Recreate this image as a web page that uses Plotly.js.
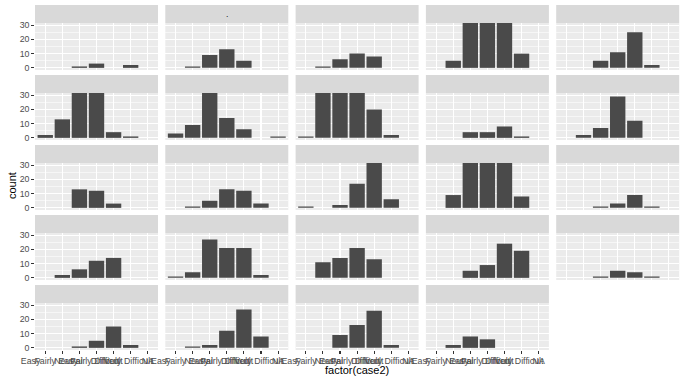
<!DOCTYPE html>
<html>
<head>
<meta charset="utf-8">
<script src="https://cdn.plot.ly/plotly-3.0.1.min.js"></script>
<style>html,body{margin:0;padding:0;background:#fff;}#chart{width:686px;height:381px;}</style>
</head>
<body>
<div id="chart"></div>
<script>
// x categories (factor(case2)), labels are fixed-width padded strings
const categories = ["Easy", "Fairly Easy", "Neutral", "Fairly Difficult", "Difficult", "Very Difficult", "NA"];
const yTicks = [0, 10, 20, 30];
const yMinorTicks = [5, 15, 25];
const stripLabels = ["", ".", "", "", "", "", "", "", "", "", "", "", "", "", "", "", "", "", "", "", "", "", "", ""];

// counts per facet panel (bars above ~31 are cut off in the reference; their heights are guesses)
const p1  = [0, 0, 1, 3, 0, 2, 0];
const p2  = [0, 1, 9, 13, 5, 0, 0];
const p3  = [0, 1, 6, 10, 8, 0, 0];
const p4  = [0, 5, 35, 35, 35, 10, 0];
const p5  = [0, 0, 5, 11, 25, 2, 0];
const p6  = [2, 13, 35, 35, 4, 1, 0];
const p7  = [3, 9, 35, 14, 6, 0, 1];
const p8  = [1, 35, 35, 35, 20, 2, 0];
const p9  = [0, 0, 4, 4, 8, 1, 0];
const p10 = [0, 2, 7, 29, 12, 0, 0];
const p11 = [0, 0, 13, 12, 3, 0, 0];
const p12 = [0, 1, 5, 13, 12, 3, 0];
const p13 = [1, 0, 2, 17, 35, 6, 0];
const p14 = [0, 9, 35, 35, 35, 8, 0];
const p15 = [0, 0, 1, 3, 9, 1, 0];
const p16 = [0, 2, 6, 12, 14, 0, 0];
const p17 = [1, 4, 27, 21, 21, 2, 0];
const p18 = [0, 11, 14, 21, 13, 0, 0];
const p19 = [0, 0, 5, 9, 24, 19, 0];
const p20 = [0, 0, 1, 5, 4, 1, 0];
const p21 = [0, 0, 1, 5, 15, 2, 0];
const p22 = [0, 1, 2, 12, 27, 8, 0];
const p23 = [0, 0, 9, 16, 26, 2, 0];
const p24 = [0, 2, 8, 6, 0, 0, 0];
const panels = [p1,p2,p3,p4,p5,p6,p7,p8,p9,p10,p11,p12,p13,p14,p15,p16,p17,p18,p19,p20,p21,p22,p23,p24];

const W = 686, H = 381;
const FONT = "Liberation Sans, Arial, Helvetica, sans-serif";
const NBSP = "\u00A0";
const tickText = categories.map(c => c === "NA" ? c : c + NBSP.repeat(Math.max(0, 16 - c.length)));

const nCols = 5, nRows = 5;
const left0 = 35, colPitch = 130.3, panelW = 123;
const top0 = 5, rowPitch = 70, stripH = 18, plotH = 47;

const data = [];
const layout = {
  width: W, height: H,
  margin: {l: 0, r: 0, t: 0, b: 0, pad: 0},
  paper_bgcolor: "#FFFFFF",
  plot_bgcolor: "#EBEBEB",
  showlegend: false,
  bargap: 0.1,
  font: {family: FONT, size: 8.8, color: "#4D4D4D"},
  shapes: [],
  annotations: []
};

panels.forEach((vals, i) => {
  const r = Math.floor(i / nCols), c = i % nCols;
  const n = i === 0 ? "" : String(i + 1);
  const x0 = left0 + colPitch * c, x1 = x0 + panelW;
  const sTop = top0 + rowPitch * r, pTop = sTop + stripH, pBot = pTop + plotH;
  const isBottom = r === nRows - 1;
  const isLeft = c === 0;

  data.push({
    type: "bar",
    x: categories,
    y: vals,
    xaxis: "x" + n,
    yaxis: "y" + n,
    width: 0.9,
    marker: {color: "#4A4A4A", line: {width: 0}},
    hoverinfo: "skip",
    showlegend: false
  });

  layout["xaxis" + n] = {
    domain: [x0 / W, x1 / W],
    anchor: "y" + n,
    type: "category",
    categoryorder: "array",
    categoryarray: categories,
    range: [-0.6, 6.6],
    tickmode: "array",
    tickvals: categories,
    ticktext: tickText,
    tickangle: 0,
    showgrid: true, gridcolor: "#FFFFFF", gridwidth: 1.07,
    zeroline: false, showline: false,
    ticks: isBottom ? "outside" : "",
    ticklen: 2.75, tickwidth: 1.07, tickcolor: "#333333",
    showticklabels: isBottom,
    tickfont: {family: FONT, size: 8.8, color: "#4D4D4D"},
    fixedrange: true
  };
  layout["yaxis" + n] = {
    domain: [1 - pBot / H, 1 - pTop / H],
    anchor: "x" + n,
    range: [-1.5, 31.5],
    tickmode: "array",
    tickvals: yTicks,
    showgrid: true, gridcolor: "#FFFFFF", gridwidth: 1.07,
    minor: {tickmode: "array", tickvals: yMinorTicks, showgrid: true, gridcolor: "#FFFFFF", gridwidth: 0.53, ticks: ""},
    zeroline: false, showline: false,
    ticks: isLeft ? "outside" : "",
    ticklen: 2.75, tickwidth: 1.07, tickcolor: "#333333",
    showticklabels: isLeft,
    tickfont: {family: FONT, size: 8.8, color: "#4D4D4D"},
    fixedrange: true
  };

  layout.shapes.push({
    type: "rect", xref: "paper", yref: "paper", layer: "below",
    x0: x0 / W, x1: x1 / W, y0: 1 - pTop / H, y1: 1 - sTop / H,
    fillcolor: "#D9D9D9", line: {width: 0}
  });
  if (stripLabels[i]) {
    layout.annotations.push({
      xref: "paper", yref: "paper", x: (x0 + x1) / 2 / W, y: 1 - (sTop + stripH / 2) / H,
      text: stripLabels[i], showarrow: false, xanchor: "center", yanchor: "middle",
      font: {family: FONT, size: 8.8, color: "#1A1A1A"}
    });
  }
});

layout.annotations.push({
  xref: "paper", yref: "paper", x: 12 / W, y: 1 - 186 / H,
  text: "count", showarrow: false, textangle: -90, xanchor: "center", yanchor: "middle",
  font: {family: FONT, size: 11, color: "#000000"}
});
layout.annotations.push({
  xref: "paper", yref: "paper", x: 357 / W, y: 1 - 370 / H,
  text: "factor(case2)", showarrow: false, xanchor: "center", yanchor: "middle",
  font: {family: FONT, size: 11, color: "#000000"}
});

Plotly.newPlot("chart", data, layout, {staticPlot: true, displayModeBar: false});
</script>
</body>
</html>
